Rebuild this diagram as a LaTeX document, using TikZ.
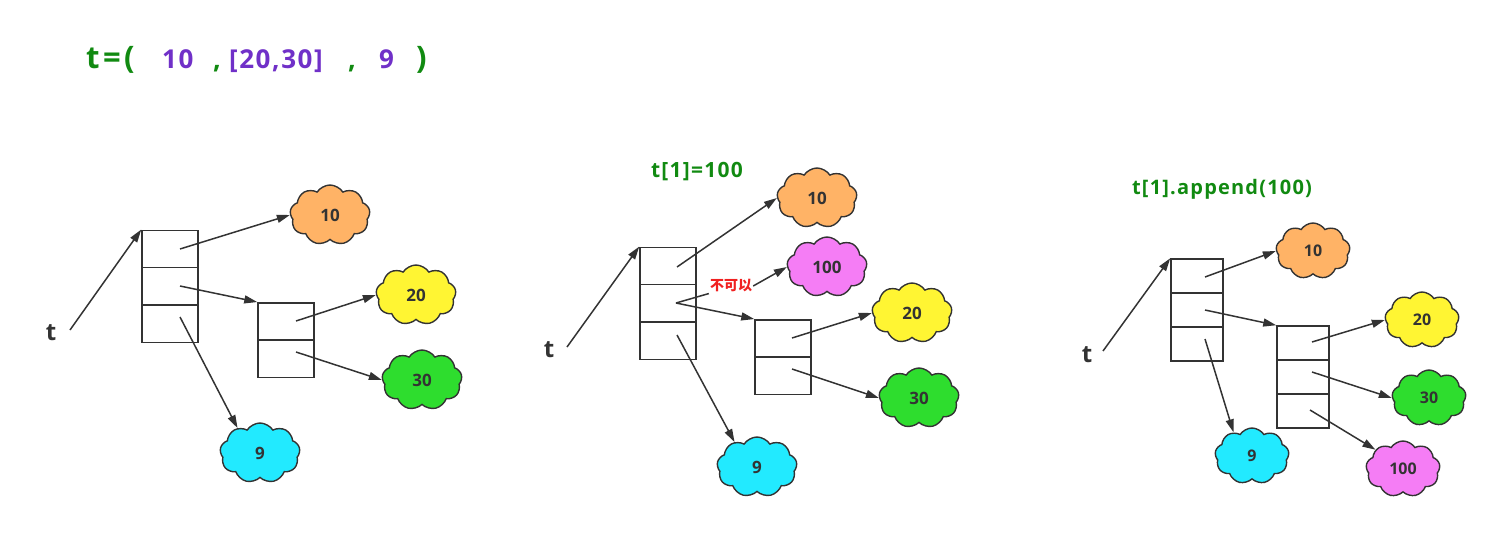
\documentclass[tikz,border=0pt]{standalone}
\usepackage{fontspec}
\setmainfont{Open Sans}
\newfontfamily\cjk{Noto Sans CJK SC}
\newfontfamily\wide[LetterSpace=6]{Open Sans}
\usetikzlibrary{shapes.symbols,arrows.meta}
\definecolor{tgreen}{HTML}{118A11}
\definecolor{tpurple}{HTML}{7030C8}
\definecolor{corange}{HTML}{FFB366}
\definecolor{cyellow}{HTML}{FFF533}
\definecolor{cgreen}{HTML}{2EDD2E}
\definecolor{ccyan}{HTML}{22EAFF}
\definecolor{cpink}{HTML}{F57DF5}
\definecolor{ink}{HTML}{333333}
\definecolor{nored}{HTML}{F02020}
\begin{document}
\begin{tikzpicture}[x=1pt,y=-1pt,
  cl/.style={cloud, cloud puffs=9, cloud puff arc=115, cloud ignores aspect, minimum width=80, minimum height=60,
    draw=ink, line width=1.4, inner sep=0, font=\bfseries\fontsize{17}{17}\selectfont, text=ink},
  cls/.style={cl, minimum width=74, minimum height=56, font=\bfseries\fontsize{16}{16}\selectfont},
  cell/.style={draw=ink, line width=1.5, minimum width=56, minimum height=37.4, inner sep=0},
  cellb/.style={draw=ink, line width=1.5, minimum width=52, minimum height=34, inner sep=0},
  arr/.style={draw=ink, line width=1.5, -{Triangle[length=13,width=8]}},
  ln/.style={draw=ink, line width=1.5},
  tlab/.style={font=\bfseries\fontsize{24}{24}\selectfont, text=ink, inner sep=0},
  glab/.style={font=\wide\bfseries\fontsize{21}{21}\selectfont, text=tgreen, inner sep=0},
  ttl/.style={font=\wide\bfseries\fontsize{26}{26}\selectfont, inner sep=0, anchor=base west, text=tpurple},
  ttg/.style={font=\bfseries\fontsize{31}{31}\selectfont, inner sep=0, anchor=base west, text=tgreen}
]
\useasboundingbox (0,0) rectangle (1486,549);

% title
\node[ttg] (ta) at (86,68) {t};
\node[ttg] (ta2) at (103,68) {=};
\node[ttg] (ta3) at (124,68) {(};
\node[ttl] (tb) at (162,68) {10};
\node[ttg, font=\bfseries\fontsize{27}{27}\selectfont] (tc) at (213,68) {,};
\node[ttl] (td) at (229,68) {[20,30]};
\node[ttg, font=\bfseries\fontsize{27}{27}\selectfont] (te) at (348,68) {,};
\node[ttl] (tf) at (379,68) {9};
\node[ttg] (tg) at (416,68) {)};

% ---------- diagram 1 ----------
\node[tlab] (t1) at (51,333) {t};
\coordinate (t1s) at (70,330);
\node[cell] (a1) at (170,249) {};
\node[cell] (a2) at (170,286.4) {};
\node[cell] (a3) at (170,323.8) {};
\node[cell] (b1) at (286,321.5) {};
\node[cell] (b2) at (286,359) {};
\node[cl, fill=corange] (c10) at (330,215) {10};
\node[cl, fill=cyellow] (c20) at (416,295) {20};
\node[cl, fill=cgreen] (c30) at (422,380) {30};
\node[cl, fill=ccyan] (c9) at (260,453) {9};
\coordinate (p1) at (180,249);
\coordinate (p2) at (180,286);
\coordinate (p3) at (180,317);
\coordinate (q1) at (296,321);
\coordinate (q2) at (296,352);
\draw[arr] (t1s) -- (a1.north west);
\draw[arr] (p1) -- (c10.west);
\draw[arr] (p2) -- (b1.north west);
\draw[arr] (p3) -- (c9.132);
\draw[arr] (q1) -- (c20.west);
\draw[arr] (q2) -- (c30.west);

% ---------- diagram 2 ----------
\node[glab] (h2) at (697,172) {t[1]=100};
\node[tlab] (t2) at (549,350) {t};
\coordinate (t2s) at (567,347);
\node[cell] (d1) at (668,266) {};
\node[cell] (d2) at (668,303.4) {};
\node[cell] (d3) at (668,340.8) {};
\node[cell] (e1) at (783,338.5) {};
\node[cell] (e2) at (783,376) {};
\node[cl, fill=corange] (f10) at (817,198) {10};
\node[cl, fill=cpink] (f100) at (827,267) {100};
\node[cl, fill=cyellow] (f20) at (912,313) {20};
\node[cl, fill=cgreen] (f30) at (919,398) {30};
\node[cl, fill=ccyan] (f9) at (757,467) {9};
\node[font=\cjk\bfseries\fontsize{14}{14}\selectfont, text=nored, inner sep=1] (no) at (731,286) {不可以};
\coordinate (r1) at (677,267);
\coordinate (r2) at (676,303);
\coordinate (r3) at (677,335);
\coordinate (s1) at (792,338);
\coordinate (s2) at (792,369);
\draw[arr] (t2s) -- (d1.north west);
\draw[arr] (r1) -- (f10.west);
\draw[ln] (r2) -- (no.south west);
\draw[arr] (no.east) -- (f100.west);
\draw[arr] (r2) -- (e1.north west);
\draw[arr] (r3) -- (f9.132);
\draw[arr] (s1) -- (f20.west);
\draw[arr] (s2) -- (f30.west);

% ---------- diagram 3 ----------
\node[glab, font=\wide\bfseries\fontsize{20}{20}\selectfont] (h3) at (1222,189) {t[1].append(100)};
\node[tlab] (t3) at (1087,355) {t};
\coordinate (t3s) at (1103,351);
\node[cellb] (g1) at (1197,276) {};
\node[cellb] (g2) at (1197,310) {};
\node[cellb] (g3) at (1197,344) {};
\node[cellb] (k1) at (1303,343) {};
\node[cellb] (k2) at (1303,377) {};
\node[cellb] (k3) at (1303,411) {};
\node[cls, fill=corange] (m10) at (1313,251) {10};
\node[cls, fill=cyellow] (m20) at (1422,320) {20};
\node[cls, fill=cgreen] (m30) at (1429,398) {30};
\node[cls, fill=cpink] (m100) at (1403,469) {100};
\node[cls, fill=ccyan] (m9) at (1252,456) {9};
\coordinate (u1) at (1205,277);
\coordinate (u2) at (1205,310);
\coordinate (u3) at (1205,339);
\coordinate (v1) at (1312,342);
\coordinate (v2) at (1312,372);
\coordinate (v3) at (1310,410);
\draw[arr] (t3s) -- (g1.north west);
\draw[arr] (u1) -- (m10.west);
\draw[arr] (u2) -- (k1.north west);
\draw[arr] (u3) -- (m9.128);
\draw[arr] (v1) -- (m20.west);
\draw[arr] (v2) -- (m30.west);
\draw[arr] (v3) -- (m100.145);
\end{tikzpicture}
\end{document}
